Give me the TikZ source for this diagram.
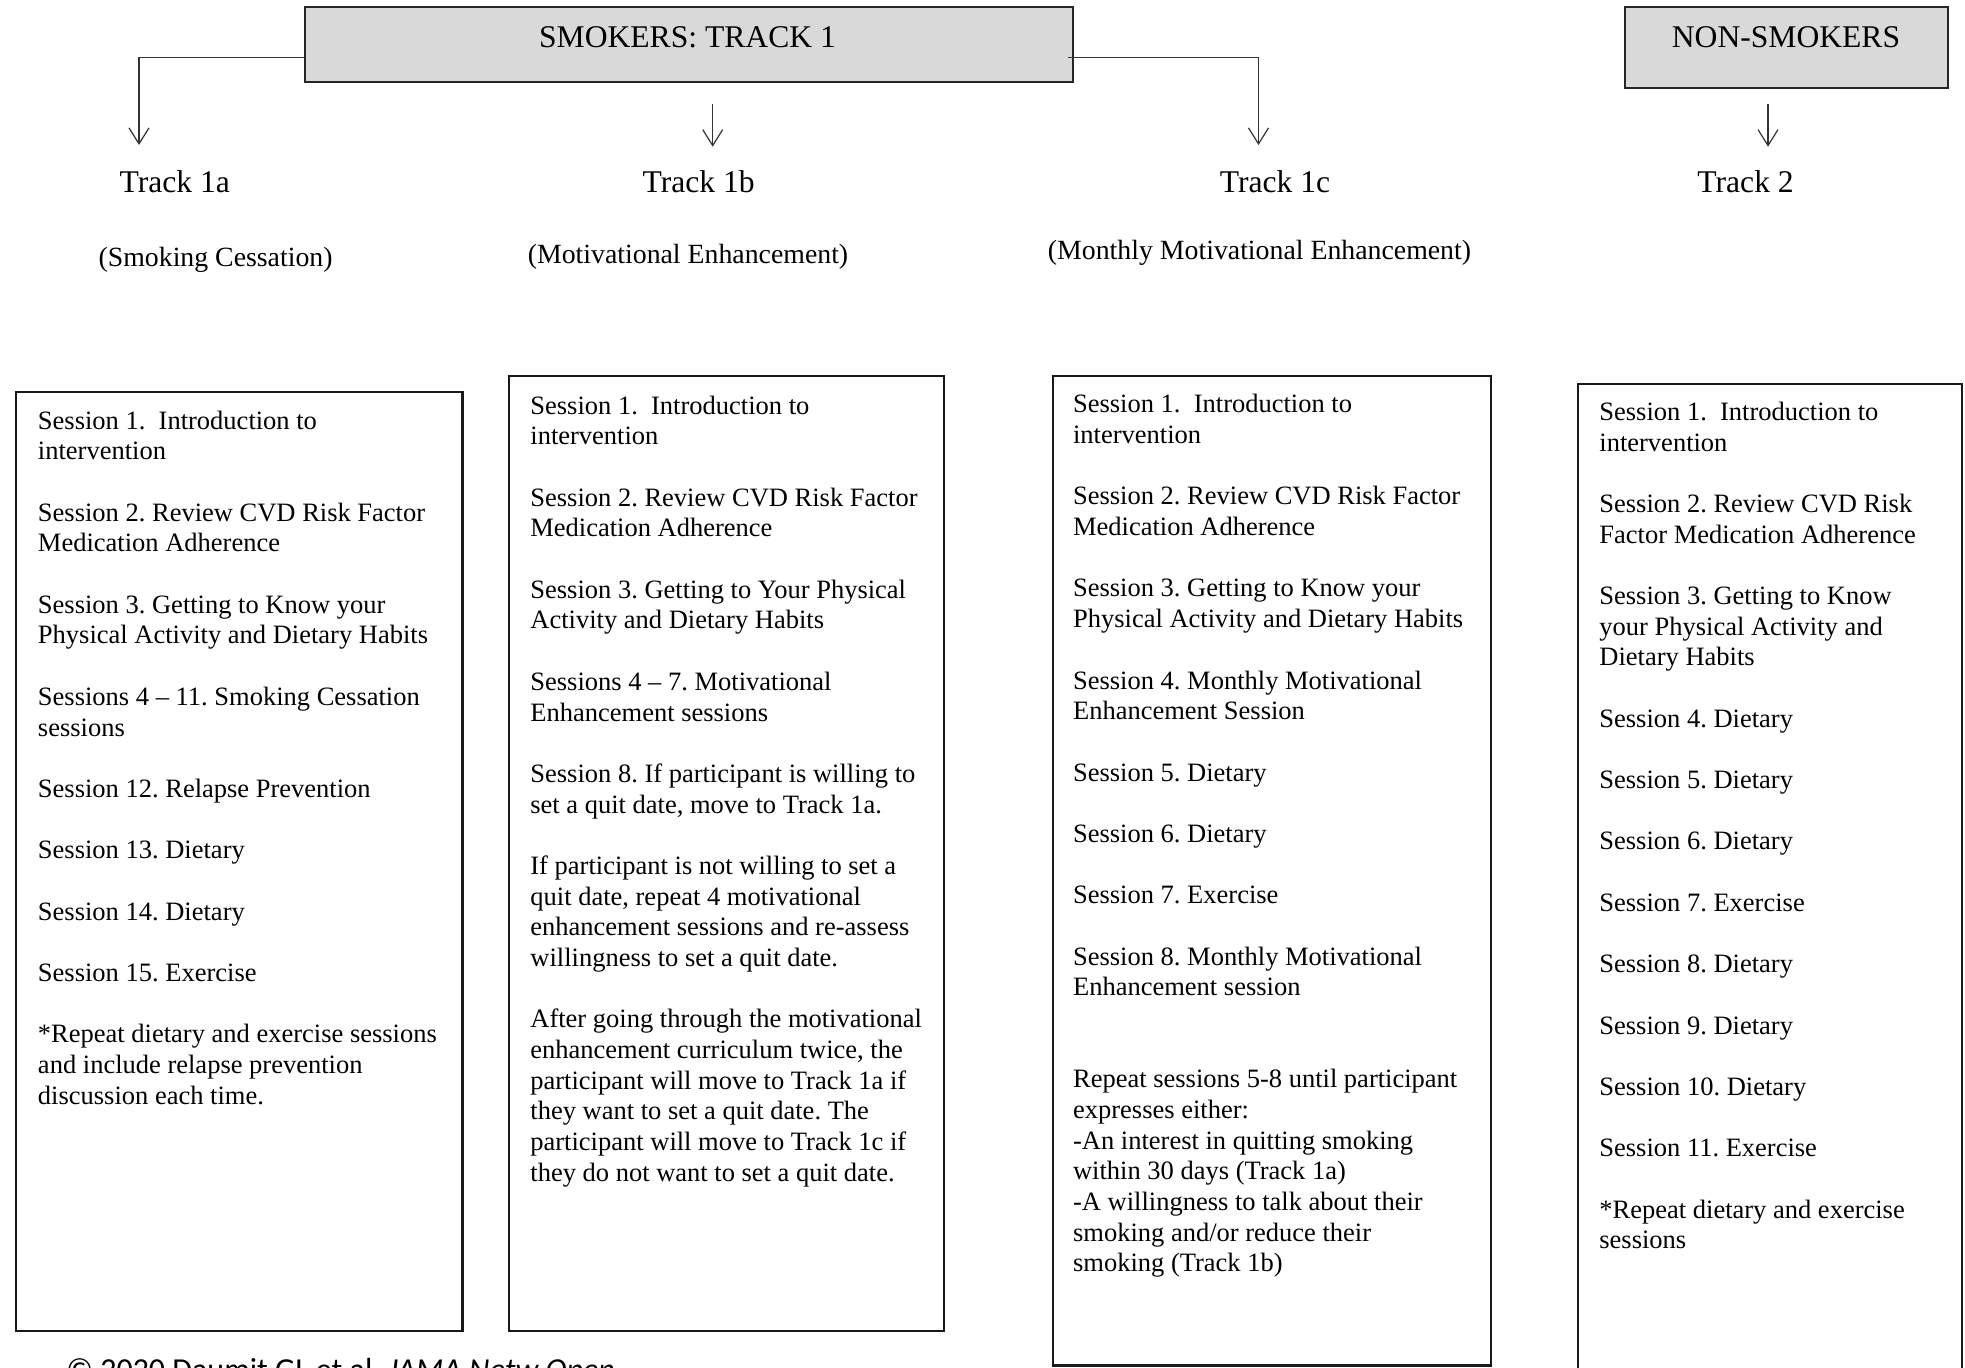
\documentclass[tikz,border=0pt]{standalone}
\usepackage{fontspec}
\setmainfont{Liberation Serif}
\newfontfamily\cpfont{Carlito}
\usetikzlibrary{arrows.meta,calc}
\frenchspacing

\begin{document}
\begin{tikzpicture}[x=0.5pt,y=-0.5pt,
    hdr/.style={draw=black!85,line width=1pt,fill=black!15,inner sep=0pt},
    arr/.style={draw=black!80,line width=0.6pt,-{Straight Barb[length=8pt,width=10pt]}},
    boxline/.style={draw=black!90,line width=1.1pt},
    trk/.style={font=\fontsize{15.8}{19}\selectfont},
    sub/.style={font=\fontsize{13.9}{16}\selectfont},
    sess/.style={anchor=north west,inner sep=0pt,align=left,font=\fontsize{13.25}{15.34}\selectfont}]
  \useasboundingbox (0,0) rectangle (1965,1367);
  % group boxes
  \node[hdr,minimum width=384.1pt,minimum height=37.35pt] (smk) at (688.6,44.65) {};
  \node[trk] (smklbl) at (687.5,37.3) {SMOKERS: TRACK 1};
  \node[hdr,minimum width=161.85pt,minimum height=40.2pt] (nsm) at (1786.5,47.5) {};
  \node[trk] (nsmlbl) at (1786,36.7) {NON-SMOKERS};
  % arrows
  \coordinate (a1) at (139,145);
  \coordinate (b0) at (712.7,104);
  \coordinate (b1) at (712.7,146.7);
  \coordinate (c1) at (1258.5,145);
  \coordinate (d0) at (1768,104);
  \coordinate (d1) at (1768,146.7);
  \draw[arr] ($(smk.west)+(0,12.6)$) -| (a1);
  \draw[arr] (b0) -- (b1);
  \draw[arr] ($(smk.east)+(-6,12.6)$) -| (c1);
  \draw[arr] (d0) -- (d1);
  % tracks
  \node[trk] (t1a) at (174.7,181.7) {Track 1a};
  \node[trk] (t1b) at (698.7,181.7) {Track 1b};
  \node[trk] (t1c) at (1275,181.7) {Track 1c};
  \node[trk] (t2) at (1745.6,181.7) {Track 2};
  \node[sub] (s1a) at (215.6,260) {(Smoking Cessation)};
  \node[sub] (s1b) at (688,256.7) {(Motivational Enhancement)};
  \node[sub] (s1c) at (1259.5,253.3) {(Monthly Motivational Enhancement)};
  % session lists
  \draw[boxline] (16.3,392.3) rectangle (462.4,1330.9);
  \draw[boxline] (508.8,376) rectangle (943.7,1330.9);
  \draw[boxline] (1052.7,376) rectangle (1491.3,1365.5);
  \draw[boxline] (1578,384) rectangle (1962,1400);
  \node[sess] (ta) at (37.6,410.4) {Session 1.\ \ Introduction to\\intervention\\[15.34pt]
    Session 2. Review CVD Risk Factor\\Medication Adherence\\[15.34pt]
    Session 3. Getting to Know your\\Physical Activity and Dietary Habits\\[15.34pt]
    Sessions 4 -- 11. Smoking Cessation\\sessions\\[15.34pt]
    Session 12. Relapse Prevention\\[15.34pt]
    Session 13. Dietary\\[15.34pt]
    Session 14. Dietary\\[15.34pt]
    Session 15. Exercise\\[15.34pt]
    *Repeat dietary and exercise sessions\\and include relapse prevention\\discussion each time.};
  \node[sess] (tb) at (530,395.4) {Session 1.\ \ Introduction to\\intervention\\[15.34pt]
    Session 2. Review CVD Risk Factor\\Medication Adherence\\[15.34pt]
    Session 3. Getting to Your Physical\\Activity and Dietary Habits\\[15.34pt]
    Sessions 4 -- 7. Motivational\\Enhancement sessions\\[15.34pt]
    Session 8. If participant is willing to\\set a quit date, move to Track 1a.\\[15.34pt]
    If participant is not willing to set a\\quit date, repeat 4 motivational\\enhancement sessions and re-assess\\willingness to set a quit date.\\[15.34pt]
    After going through the motivational\\enhancement curriculum twice, the\\participant will move to Track 1a if\\they want to set a quit date. The\\participant will move to Track 1c if\\they do not want to set a quit date.};
  \node[sess] (tc) at (1072.7,394.1) {Session 1.\ \ Introduction to\\intervention\\[15.34pt]
    Session 2. Review CVD Risk Factor\\Medication Adherence\\[15.34pt]
    Session 3. Getting to Know your\\Physical Activity and Dietary Habits\\[15.34pt]
    Session 4. Monthly Motivational\\Enhancement Session\\[15.34pt]
    Session 5. Dietary\\[15.34pt]
    Session 6. Dietary\\[15.34pt]
    Session 7. Exercise\\[15.34pt]
    Session 8. Monthly Motivational\\Enhancement session\\[30.68pt]
    Repeat sessions 5-8 until participant\\expresses either:\\-An interest in quitting smoking\\within 30 days (Track 1a)\\-A willingness to talk about their\\smoking and/or reduce their\\smoking (Track 1b)};
  \node[sess] (td) at (1599,401.6) {Session 1.\ \ Introduction to\\intervention\\[15.34pt]
    Session 2. Review CVD Risk\\Factor Medication Adherence\\[15.34pt]
    Session 3. Getting to Know\\your Physical Activity and\\Dietary Habits\\[15.34pt]
    Session 4. Dietary\\[15.34pt]
    Session 5. Dietary\\[15.34pt]
    Session 6. Dietary\\[15.34pt]
    Session 7. Exercise\\[15.34pt]
    Session 8. Dietary\\[15.34pt]
    Session 9. Dietary\\[15.34pt]
    Session 10. Dietary\\[15.34pt]
    Session 11. Exercise\\[15.34pt]
    *Repeat dietary and exercise\\sessions};
  \node[anchor=base west,inner sep=0pt,font=\cpfont\fontsize{16}{19}\selectfont] (cpr) at (66,1380) {© 2020 Daumit GL et al. \textit{JAMA Netw Open}};
\end{tikzpicture}
\end{document}
